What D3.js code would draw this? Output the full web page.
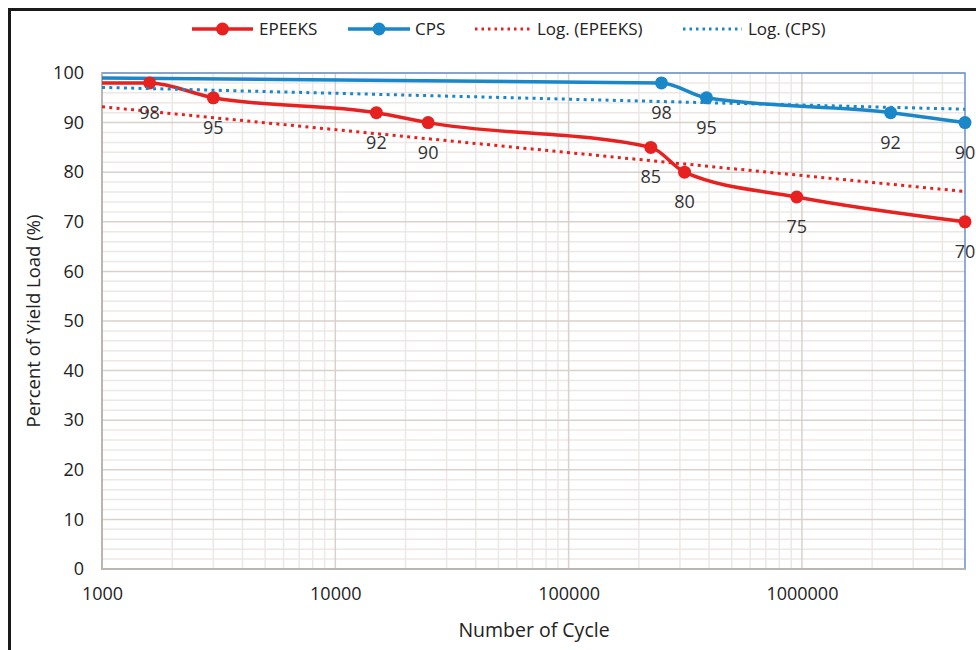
<!DOCTYPE html>
<html>
<head>
<meta charset="utf-8">
<script src="https://cdn.jsdelivr.net/npm/d3@7"></script>
<style>
  html, body { margin: 0; padding: 0; background: #fff; }
  svg { display: block; font-family: "Open Sans", "Noto Sans", sans-serif; }
</style>
</head>
<body>
<svg id="chart" width="976" height="650"></svg>
<script>
// ---- data ----
const epeeksCycles = [1000, 1600, 3000, 15000, 25000, 225000, 314000, 950000, 5000000];
const epeeksValues = [98, 98, 95, 92, 90, 85, 80, 75, 70];
const cpsCycles = [1000, 250000, 390000, 2400000, 5000000];
const cpsValues = [99, 98, 95, 92, 90];
// logarithmic trendlines (straight on log axis): value at 1000 and at 5,000,000 cycles
const trendCycles = [1000, 5000000];
const epeeksTrend = [93.2, 76.1];
const cpsTrend = [97.1, 92.7];
const xTickValues = [1000, 10000, 100000, 1000000];
const yTickValues = [0, 10, 20, 30, 40, 50, 60, 70, 80, 90, 100];
const legendLabels = ["EPEEKS", "CPS", "Log. (EPEEKS)", "Log. (CPS)"];

(function () {
const RED = "#e6211f", BLUE = "#1a87c8";

const svg = d3.select("#chart");
const pL = 102, pR = 965, pT = 73, pB = 569;

const x = d3.scaleLog().domain([1000, 5000000]).range([pL, pR]);
const y = d3.scaleLinear().domain([0, 100]).range([pB, pT]);

// outer frame
svg.append("path").attr("d", "M9.5,660 V9.5 H990").attr("fill", "none")
  .attr("stroke", "#1a1a1a").attr("stroke-width", 3);

// gridlines
const minorX = [];
for (let d = 1000; d < 5000000; d *= 10) for (let k = 2; k <= 9; k++) if (d * k < 5000000) minorX.push(d * k);
const minorY = d3.range(0, 101, 2).filter(v => v % 10 !== 0);
const grid = svg.append("g");
grid.selectAll(".mx").data(minorX).join("line")
  .attr("x1", d => x(d)).attr("x2", d => x(d)).attr("y1", pT).attr("y2", pB)
  .attr("stroke", "#ece8e6").attr("stroke-width", 1.5);
grid.selectAll(".my").data(minorY).join("line")
  .attr("x1", pL).attr("x2", pR).attr("y1", d => y(d)).attr("y2", d => y(d))
  .attr("stroke", "#ece8e6").attr("stroke-width", 1.5);
grid.selectAll(".Mx").data(xTickValues.slice(1)).join("line")
  .attr("x1", d => x(d)).attr("x2", d => x(d)).attr("y1", pT).attr("y2", pB)
  .attr("stroke", "#d8d1cd").attr("stroke-width", 1.5);
grid.selectAll(".My").data(yTickValues.slice(1)).join("line")
  .attr("x1", pL).attr("x2", pR).attr("y1", d => y(d)).attr("y2", d => y(d))
  .attr("stroke", "#d8d1cd").attr("stroke-width", 1.5);

// plot border (blue)
svg.append("rect").attr("x", pL).attr("y", pT).attr("width", pR - pL).attr("height", pB - pT)
  .attr("fill", "none").attr("stroke", "#6a93c8").attr("stroke-width", 1.5);
// axis lines (gray)
svg.append("line").attr("x1", pL).attr("x2", pL).attr("y1", pT).attr("y2", pB + 1)
  .attr("stroke", "#bdb5b1").attr("stroke-width", 2);
svg.append("line").attr("x1", pL).attr("x2", pR).attr("y1", pB).attr("y2", pB)
  .attr("stroke", "#bdb5b1").attr("stroke-width", 2);

// axes via d3
const yAxis = d3.axisLeft(y).tickValues(yTickValues).tickSize(0).tickPadding(18).tickFormat(d3.format("d"));
const gy = svg.append("g").attr("transform", `translate(${pL},0)`).call(yAxis);
gy.select(".domain").remove();
gy.selectAll("text").attr("font-size", 18).attr("fill", "#222").style("font-family", "Open Sans");

const xAxis = d3.axisBottom(x).tickValues(xTickValues).tickSize(0).tickPadding(18).tickFormat(d3.format("d"));
const gx = svg.append("g").attr("transform", `translate(0,${pB})`).call(xAxis);
gx.select(".domain").remove();
gx.selectAll("text").attr("font-size", 18).attr("fill", "#222").style("font-family", "Open Sans");

// axis titles
svg.append("text").attr("x", 534).attr("y", 637).attr("text-anchor", "middle")
  .attr("font-size", 19.5).attr("fill", "#222").text("Number of Cycle");
svg.append("text").attr("transform", "translate(40,321) rotate(-90)").attr("text-anchor", "middle")
  .attr("font-size", 18.5).attr("fill", "#222").text("Percent of Yield Load (%)");

// series lines
const line = d3.line().x(d => x(d[0])).y(d => y(d[1])).curve(d3.curveMonotoneX);
const ep = epeeksCycles.map((c, i) => [c, epeeksValues[i]]);
const cp = cpsCycles.map((c, i) => [c, cpsValues[i]]);

svg.append("path").attr("d", line(ep)).attr("fill", "none").attr("stroke", RED).attr("stroke-width", 3.5);
svg.append("path").attr("d", line(cp)).attr("fill", "none").attr("stroke", BLUE).attr("stroke-width", 3.5);

// markers (the first point of each series sits on the axis and has no marker)
svg.selectAll(".mkE").data(ep.slice(1)).join("circle")
  .attr("cx", d => x(d[0])).attr("cy", d => y(d[1])).attr("r", 6.5).attr("fill", RED);
svg.selectAll(".mkC").data(cp.slice(1)).join("circle")
  .attr("cx", d => x(d[0])).attr("cy", d => y(d[1])).attr("r", 6.5).attr("fill", BLUE);

// trendlines
const tline = d3.line().x(d => x(d[0])).y(d => y(d[1]));
svg.append("path").attr("d", tline(trendCycles.map((c, i) => [c, epeeksTrend[i]])))
  .attr("fill", "none").attr("stroke", RED).attr("stroke-width", 3).attr("stroke-dasharray", "3,4.3");
svg.append("path").attr("d", tline(trendCycles.map((c, i) => [c, cpsTrend[i]])))
  .attr("fill", "none").attr("stroke", BLUE).attr("stroke-width", 3).attr("stroke-dasharray", "3,4.3");

// data labels
const lab = svg.append("g").attr("font-size", 18).attr("fill", "#333").attr("text-anchor", "middle");
lab.selectAll(".lE").data(ep.slice(1)).join("text")
  .attr("x", d => x(d[0])).attr("y", d => y(d[1]) + 36).text(d => d[1]);
lab.selectAll(".lC").data(cp.slice(1)).join("text")
  .attr("x", d => x(d[0])).attr("y", d => y(d[1]) + 36).text(d => d[1]);

// legend
const legend = svg.append("g").attr("font-size", 17).attr("fill", "#222");
const legItems = [
  {x1: 192, x2: 253, tx: 259, color: RED, dotted: false},
  {x1: 348, x2: 410, tx: 415, color: BLUE, dotted: false},
  {x1: 475, x2: 531, tx: 537, color: RED, dotted: true},
  {x1: 683, x2: 742, tx: 748, color: BLUE, dotted: true}
];
legItems.forEach((it, i) => {
  const ly = 29;
  legend.append("line").attr("x1", it.x1).attr("x2", it.x2).attr("y1", ly).attr("y2", ly)
    .attr("stroke", it.color).attr("stroke-width", it.dotted ? 3 : 3.5)
    .attr("stroke-dasharray", it.dotted ? "2.5,4" : null);
  if (!it.dotted) legend.append("circle").attr("cx", (it.x1 + it.x2) / 2).attr("cy", ly).attr("r", 6.5).attr("fill", it.color);
  legend.append("text").attr("x", it.tx).attr("y", ly + 6).text(legendLabels[i]);
});
})();
</script>
</body>
</html>
